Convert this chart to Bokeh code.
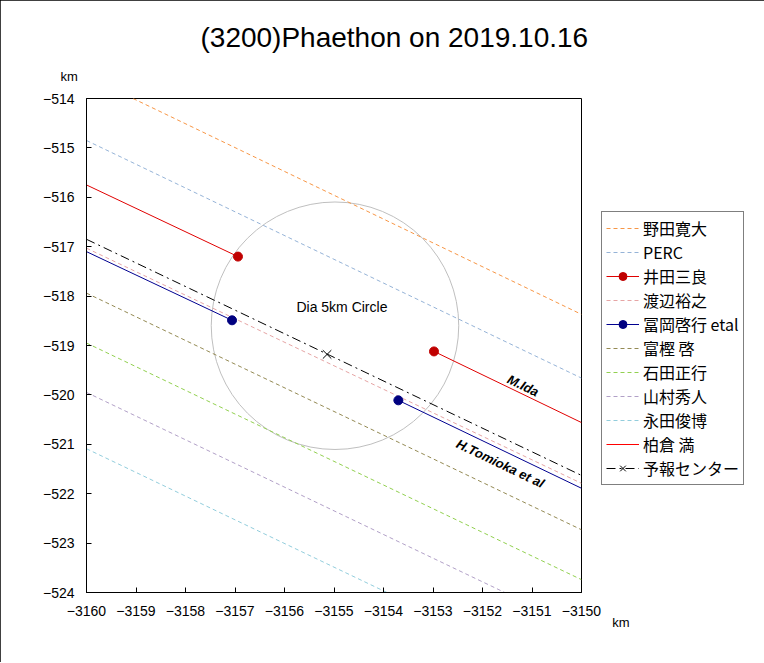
from bokeh.plotting import figure
from bokeh.models import Range1d, FixedTicker, Legend, LegendItem, Label, Title
from bokeh.embed import file_html
from bokeh.resources import INLINE

# ---- data ----
x_ticks = [-3160, -3159, -3158, -3157, -3156, -3155, -3154, -3153, -3152, -3151, -3150]
y_ticks = [-524, -523, -522, -521, -520, -519, -518, -517, -516, -515, -514]

noda_x = [-3159.06, -3150.0]
noda_y = [-514.0, -518.37]
perc_x = [-3160.0, -3150.0]
perc_y = [-514.85, -519.66]
ida_left_x = [-3160.0, -3156.94]
ida_left_y = [-515.75, -517.20]
ida_right_x = [-3152.98, -3150.0]
ida_right_y = [-519.12, -520.56]
ida_dot_x = [-3156.94, -3152.98]
ida_dot_y = [-517.20, -519.12]
watanabe_x = [-3160.0, -3150.0]
watanabe_y = [-517.03, -521.79]
tomioka_left_x = [-3160.0, -3157.06]
tomioka_left_y = [-517.10, -518.49]
tomioka_right_x = [-3153.70, -3150.0]
tomioka_right_y = [-520.11, -521.89]
tomioka_dot_x = [-3157.06, -3153.70]
tomioka_dot_y = [-518.49, -520.11]
togashi_x = [-3160.0, -3150.0]
togashi_y = [-517.94, -522.73]
ishida_x = [-3160.0, -3150.0]
ishida_y = [-518.95, -523.74]
yamamura_x = [-3160.0, -3151.55]
yamamura_y = [-519.95, -524.0]
nagata_x = [-3160.0, -3153.93]
nagata_y = [-521.09, -524.0]
kashiwakura_x = [None, None]
kashiwakura_y = [None, None]
center_x = [-3160.0, -3150.0]
center_y = [-516.85, -521.63]
center_pt_x = [-3155.14]
center_pt_y = [-519.18]
circle_x = [-3154.98]
circle_y = [-518.60]
circle_dia = 5.0

SANS = "Liberation Sans"
JP = "Noto Sans CJK JP"

p = figure(frame_width=495, frame_height=494, output_backend="svg", toolbar_location=None,
           x_range=Range1d(-3160, -3150), y_range=Range1d(-524, -514),
           min_border_left=86, min_border_right=182, min_border_top=98, min_border_bottom=70)
p.title = None
p.xgrid.visible = False
p.ygrid.visible = False
p.outline_line_color = "black"
p.outline_line_width = 1
p.background_fill_color = "white"
p.border_fill_color = "white"
p.styles = {"outline": "1px solid black", "outline-offset": "-1px"}

for ax, ticks, stand in ((p.xaxis[0], x_ticks, 13), (p.yaxis[0], y_ticks, 12)):
    ax.ticker = FixedTicker(ticks=ticks)
    ax.major_label_overrides = {t: ("\u2212" + str(abs(t))) for t in ticks}
    ax.major_tick_in = 5
    ax.major_tick_out = 0
    ax.minor_tick_line_color = None
    ax.axis_line_color = "black"
    ax.major_tick_line_color = "black"
    ax.major_label_text_font = SANS
    ax.major_label_text_font_size = "14px"
    ax.major_label_text_color = "black"
    ax.major_label_standoff = stand

# circle
p.circle(circle_x, circle_y, radius=circle_dia / 2, fill_color=None, line_color="#BFBFBF", line_width=1)

dash = "4 3"
r_noda = p.line(noda_x, noda_y, line_color="#F79646", line_dash=dash, line_width=1)
r_perc = p.line(perc_x, perc_y, line_color="#95B3D7", line_dash=dash, line_width=1)
r_ida1 = p.line(ida_left_x, ida_left_y, line_color="#E00000", line_width=1)
r_ida2 = p.line(ida_right_x, ida_right_y, line_color="#E00000", line_width=1)
r_idad = p.scatter(ida_dot_x, ida_dot_y, marker="circle", size=9, fill_color="#C00000", line_color="#C00000")
r_wat = p.line(watanabe_x, watanabe_y, line_color="#E6A5A5", line_dash=dash, line_width=1)
r_tom1 = p.line(tomioka_left_x, tomioka_left_y, line_color="#000090", line_width=1)
r_tom2 = p.line(tomioka_right_x, tomioka_right_y, line_color="#000090", line_width=1)
r_tomd = p.scatter(tomioka_dot_x, tomioka_dot_y, marker="circle", size=9, fill_color="#000080", line_color="#000080")
r_tog = p.line(togashi_x, togashi_y, line_color="#948A54", line_dash=dash, line_width=1)
r_ish = p.line(ishida_x, ishida_y, line_color="#92D050", line_dash=dash, line_width=1)
r_yam = p.line(yamamura_x, yamamura_y, line_color="#B1A0C7", line_dash=dash, line_width=1)
r_nag = p.line(nagata_x, nagata_y, line_color="#92CDDC", line_dash=dash, line_width=1)
r_kas = p.line(kashiwakura_x, kashiwakura_y, line_color="#FF0000", line_width=1)
r_cen = p.line(center_x, center_y, line_color="black", line_dash="9 4 2 4", line_width=1)
r_cenx = p.scatter(center_pt_x, center_pt_y, marker="x", size=12, line_color="black", line_width=1)

items = [
    LegendItem(label="野田寛大", renderers=[r_noda]),
    LegendItem(label="PERC", renderers=[r_perc]),
    LegendItem(label="井田三良", renderers=[r_ida1, r_idad]),
    LegendItem(label="渡辺裕之", renderers=[r_wat]),
    LegendItem(label="冨岡啓行 etal", renderers=[r_tom1, r_tomd]),
    LegendItem(label="富樫 啓", renderers=[r_tog]),
    LegendItem(label="石田正行", renderers=[r_ish]),
    LegendItem(label="山村秀人", renderers=[r_yam]),
    LegendItem(label="永田俊博", renderers=[r_nag]),
    LegendItem(label="柏倉 満", renderers=[r_kas]),
    LegendItem(label="予報センター", renderers=[r_cen, r_cenx]),
]
legend = Legend(items=items, location=(20, 107))
legend.margin = 0
legend.padding = 4
legend.spacing = 0
legend.glyph_width = 33
legend.glyph_height = 20
legend.label_height = 20
legend.label_standoff = 4
legend.label_text_font = JP
legend.label_text_font_size = "16px"
legend.label_text_color = "black"
legend.border_line_color = "black"
legend.border_line_width = 1
legend.background_fill_alpha = 1.0
p.add_layout(legend, "right")

# titles above the frame (nearest first)
km_y = Title(text="km", align="left", offset=-26, standoff=29,
             text_font=SANS, text_font_size="13px", text_font_style="normal", text_color="black")
p.add_layout(km_y, "above")
main = Title(text="(3200)Phaethon on 2019.10.16", align="left", offset=114, standoff=0,
             text_font=SANS, text_font_size="28px", text_font_style="normal", text_color="black")
p.add_layout(main, "above")
km_x = Title(text="km", align="right", offset=-48, standoff=-23,
             text_font=SANS, text_font_size="13px", text_font_style="normal", text_color="black")
p.add_layout(km_x, "below")

ang = -0.447
p.add_layout(Label(x=-3154.84, y=-518.23, text="Dia 5km Circle", text_align="center", text_baseline="middle",
                   text_font=SANS, text_font_size="14px", text_color="black"))
p.add_layout(Label(x=-3151.18, y=-519.81, text="M.Ida", angle=ang, text_align="center", text_baseline="middle",
                   text_font=SANS, text_font_style="bold italic", text_font_size="13px", text_color="black"))
p.add_layout(Label(x=-3151.64, y=-521.39, text="H.Tomioka et al", angle=ang, text_align="center", text_baseline="middle",
                   text_font=SANS, text_font_style="bold italic", text_font_size="13px", text_color="black"))

open("out.html", "w").write(file_html(p, INLINE))
